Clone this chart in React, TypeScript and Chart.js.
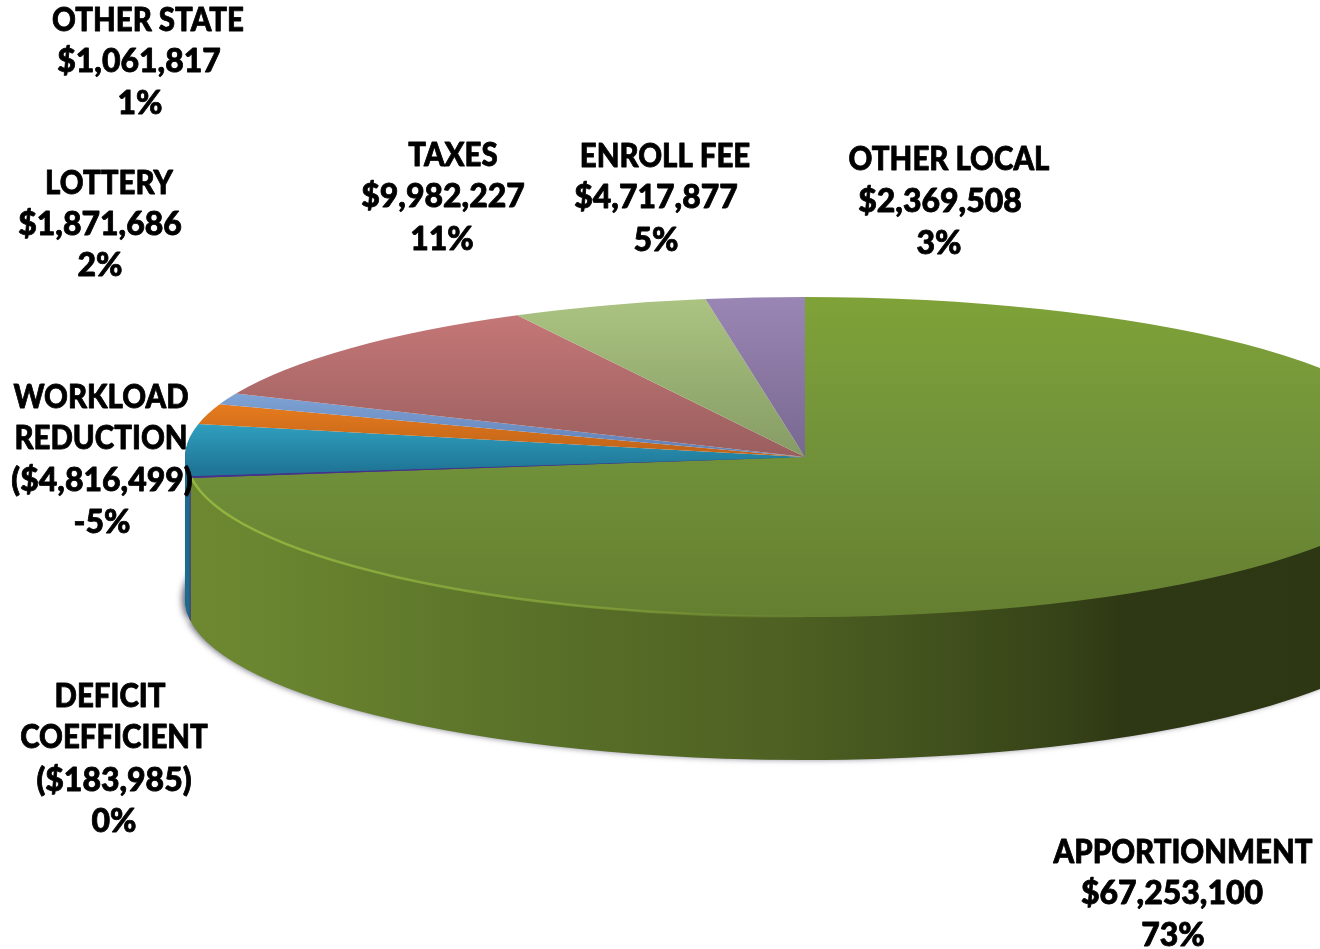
import React, { useEffect, useRef } from "react";
import { Chart, registerables } from "chart.js";

Chart.register(...registerables);

const categories = ["APPORTIONMENT", "DEFICIT COEFFICIENT", "WORKLOAD REDUCTION", "LOTTERY", "OTHER STATE", "TAXES", "ENROLL FEE", "OTHER LOCAL"];
const magnitudes = [67253100, 183985, 4816499, 1871686, 1061817, 9982227, 4717877, 2369508];

// Colour stops for the top face; position 0 = back of the ellipse, 1 = front edge
const topColors: [number, string][][] = [
  [[0, "#7fa238"], [0.5, "#71913a"], [1, "#657f30"]],
  [[0, "#46328a"], [1, "#46328a"]],
  [[0.39, "#31a1c1"], [0.54, "#1f7697"]],
  [[0.33, "#e87c1e"], [0.47, "#c4661a"]],
  [[0.3, "#80a4d6"], [0.46, "#6484ba"]],
  [[0, "#ca7a7a"], [0.5, "#9a5e5e"]],
  [[0, "#acc482"], [0.5, "#859b64"]],
  [[0, "#9a86b4"], [0.5, "#786890"]],
];
const wallStops: [number, string][] = [
  [0, "#6d8830"],
  [0.06, "#6b8630"],
  [0.315, "#587028"],
  [0.51, "#506223"],
  [0.635, "#44541e"],
  [0.764, "#374418"],
  [0.83, "#2e3814"],
  [1, "#2d3714"],
];

const labelLines: [string, number, number][] = [
  ["OTHER STATE", 148, 31], ["$1,061,817", 139, 72], ["1%", 140, 114],
  ["LOTTERY", 109, 194], ["$1,871,686", 100, 235], ["2%", 100, 276],
  ["TAXES", 453, 166], ["$9,982,227", 443, 207], ["11%", 442, 250],
  ["ENROLL FEE", 665, 167], ["$4,717,877", 656, 208], ["5%", 656, 251],
  ["OTHER LOCAL", 949, 170], ["$2,369,508", 940, 212], ["3%", 939, 254],
  ["WORKLOAD", 101, 408], ["REDUCTION", 101, 449], ["($4,816,499)", 102, 491], ["-5%", 102, 533],
  ["DEFICIT", 110, 707], ["COEFFICIENT", 114, 748], ["($183,985)", 114, 791], ["0%", 114, 832],
  ["APPORTIONMENT", 1183, 863], ["$67,253,100", 1172, 904], ["73%", 1173, 946],
];

const RADIUS = 620;
const SQUASH = 160 / 620;
const DEPTH = 143;

function center(chart: any) {
  const a = chart.chartArea;
  return { cx: (a.left + a.right) / 2, cy: (a.top + a.bottom) / 2 };
}

const pie3d = {
  id: "pie3d",
  beforeDatasetsDraw(chart: any) {
    const ctx = chart.ctx;
    const { cx, cy } = center(chart);
    ctx.save();
    ctx.translate(cx, cy);
    ctx.scale(1, SQUASH);
    ctx.translate(-cx, -cy);
    const arcs = chart.getDatasetMeta(0).data;
    const wall = ctx.createLinearGradient(187, 0, 1320, 0);
    wallStops.forEach(([p, c]) => wall.addColorStop(p, c));
    const fills: any[] = [wall, "#46328a", "#1f6c8e"];
    [2, 1, 0].forEach((i) => {
      const ghost = Object.create(arcs[i]);
      ghost.options = { ...arcs[i].options, backgroundColor: fills[i], borderColor: fills[i], borderWidth: 0 };
      for (let d = DEPTH; d >= 1; d--) {
        ctx.save();
        ctx.translate(0, d / SQUASH);
        if (d === DEPTH && (i === 0 || i === 2)) {
          ctx.shadowColor = "rgba(70,70,90,0.8)";
          ctx.shadowBlur = 6;
          ctx.shadowOffsetX = -3;
          ctx.shadowOffsetY = -1;
        }
        ghost.draw(ctx);
        ctx.restore();
      }
    });
  },
  afterDatasetsDraw(chart: any) {
    const ctx = chart.ctx;
    ctx.restore();
    const { cx, cy } = center(chart);
    const green = chart.getDatasetMeta(0).data[0];
    const rim = ctx.createLinearGradient(190, 0, 840, 0);
    rim.addColorStop(0, "rgba(150,185,65,0.95)");
    rim.addColorStop(0.65, "rgba(135,165,60,0.7)");
    rim.addColorStop(1, "rgba(120,150,55,0)");
    ctx.save();
    ctx.beginPath();
    ctx.ellipse(cx, cy, RADIUS - 1, (RADIUS - 1) * SQUASH, 0, Math.PI / 2, green.endAngle);
    ctx.strokeStyle = rim;
    ctx.lineWidth = 2.5;
    ctx.stroke();
    ctx.restore();
  },
  afterDraw(chart: any) {
    const ctx = chart.ctx;
    ctx.save();
    ctx.font = "900 32px Lato, sans-serif";
    ctx.textAlign = "center";
    ctx.textBaseline = "alphabetic";
    ctx.fillStyle = "#000";
    ctx.strokeStyle = "#000";
    ctx.lineWidth = 0.8;
    ctx.lineJoin = "round";
    labelLines.forEach(([t, x, y]) => {
      const narrow = /[A-Z]/.test(t) ? 0.92 : 1;
      ctx.save();
      ctx.translate(x, y);
      ctx.scale(narrow, 1);
      ctx.fillText(t, 0, 0);
      ctx.strokeText(t, 0, 0);
      ctx.restore();
    });
    ctx.restore();
  },
};

export default function App() {
  const ref = useRef<HTMLCanvasElement>(null);
  useEffect(() => {
    const chart = new Chart(ref.current!, {
      type: "pie",
      data: {
        labels: categories,
        datasets: [
          {
            data: magnitudes,
            clip: false,
            borderWidth: 0,
            radius: RADIUS,
            backgroundColor: (c: any) => {
              const area = c.chart.chartArea;
              if (!area) return "#888";
              const cy = (area.top + area.bottom) / 2;
              const g = c.chart.ctx.createLinearGradient(0, cy - RADIUS, 0, cy + RADIUS);
              topColors[c.dataIndex].forEach(([p, col]) => g.addColorStop(p, col));
              return g;
            },
          } as any,
        ],
      },
      options: {
        animation: false,
        responsive: false,
        maintainAspectRatio: false,
        layout: { padding: { left: 290, right: 0, top: 0, bottom: 35 } },
        plugins: { legend: { display: false }, tooltip: { enabled: false } },
      },
      plugins: [pie3d],
    } as any);
    return () => chart.destroy();
  }, []);
  return (
    <div style={{ position: "absolute", left: 0, top: 0, width: 1320, height: 949, background: "#fff" }}>
      <canvas ref={ref} width={1320} height={949} style={{ display: "block" }} />
    </div>
  );
}
